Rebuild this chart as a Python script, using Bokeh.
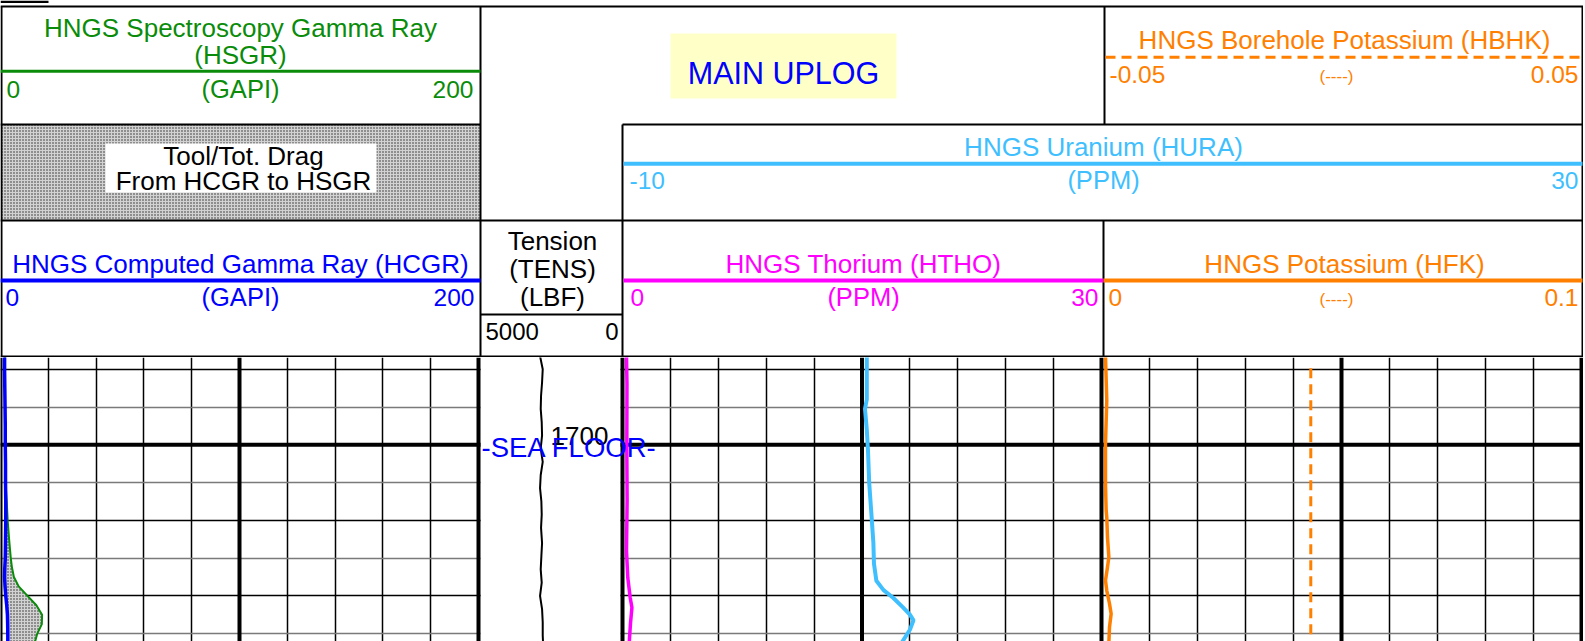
from bokeh.plotting import figure
from bokeh.layouts import column
from bokeh.models import Range1d, FixedTicker, Grid, Span, Label, BoxAnnotation
from bokeh.core.properties import value
from bokeh.embed import file_html
from bokeh.resources import INLINE

FONT_NAME = "Liberation Sans"
FONT = value(FONT_NAME)

# ---------------- data (depth in ft) ----------------
gr_depth = [1695.3, 1696, 1697, 1698, 1699, 1700, 1701, 1702, 1703, 1704, 1705,
            1706, 1706.5, 1707, 1707.5, 1708, 1708.5, 1709, 1709.5, 1710, 1710.5]
hsgr = [1.9, 1.9, 1.9, 1.9, 1.9, 1.9, 2.0, 2.1, 2.6, 3.0, 3.6,
        4.3, 4.8, 5.6, 7.6, 11.3, 15.0, 17.4, 17.3, 15.4, 14.3]
hcgr = [1.7, 1.7, 1.8, 1.9, 2.0, 2.0, 2.1, 2.1, 2.2, 2.2, 2.1,
        2.0, 1.8, 1.7, 1.9, 2.2, 2.6, 2.9, 3.0, 3.05, 3.05]

tens_depth = [1695.3, 1696.0, 1696.7, 1697.4, 1698.1, 1698.8, 1699.5, 1700.2, 1700.9,
              1701.6, 1702.3, 1703.0, 1703.7, 1704.4, 1705.2, 1705.9, 1706.6, 1707.3,
              1708.0, 1708.7, 1709.4, 1710.1, 1710.5]
tens = [2863, 2770, 2793, 2828, 2840, 2805, 2793, 2840, 2770,
        2840, 2863, 2817, 2805, 2828, 2793, 2817, 2840, 2805,
        2863, 2793, 2770, 2770, 2758]

htho_depth = [1695.3, 1696.75, 1700.3, 1702.95, 1705.6, 1707.03, 1708.09, 1708.62, 1709.46, 1710.5]
htho = [0.25, 0.28, 0.27, 0.29, 0.25, 0.33, 0.48, 0.59, 0.50, 0.42]

hura_depth = [1695.3, 1696.5, 1697.6, 1698.1, 1699.2, 1700.3, 1702.0, 1703.8, 1705.2,
              1706.3, 1707.2, 1707.7, 1708.1, 1708.6, 1709.0, 1709.3, 1709.8, 1710.5]
hura = [10.4, 10.4, 10.4, 10.25, 10.4, 10.5, 10.6, 10.8, 10.95,
        11.0, 11.2, 11.8, 12.6, 13.4, 14.0, 14.3, 14.0, 13.3]

hfk_depth = [1695.3, 1697.65, 1699.95, 1702.07, 1703.48, 1703.84, 1704.90, 1705.95,
             1706.48, 1707.19, 1707.72, 1708.42, 1708.95, 1709.66, 1710.5]
hfk = [0.00083, 0.0011, 0.00083, 0.00083, 0.00097, 0.0011, 0.00125, 0.00153,
       0.00125, 0.00083, 0.0011, 0.00167, 0.00201, 0.00167, 0.00153]

hbhk_depth = [1695.95, 1700.0, 1705.0, 1710.15]
hbhk = [-0.0064, -0.0064, -0.0064, -0.0064]

depth_top, depth_bottom = 1695.375, 1710.42
depth_major = [1696, 1700, 1704, 1708]
depth_minor = [1698, 1702, 1706, 1710]
marker_depth = 1700
marker_label = "1700"
sea_floor_label = "-SEA FLOOR-"

gr_range = (0, 200)
tens_range = (5000, 0)
htho_range = (0, 30)
hura_range = (-10, 30)
hfk_range = (0, 0.1)
hbhk_range = (-0.05, 0.05)

gr_ticks = [20, 40, 60, 80, 120, 140, 160, 180]
htho_ticks = [3, 6, 9, 12, 18, 21, 24, 27]
hfk_ticks = [0.01, 0.02, 0.03, 0.04, 0.06, 0.07, 0.08, 0.09]

# ---------------- styling / layout ----------------
GREEN = "#0A8C0A"
BLUE = "#0000FF"
MAGENTA = "#FF00FF"
ORANGE = "#FF8000"
LBLUE = "#40BFFF"
YELLOW = "#FFFFC8"
STIPPLE_BG = "#d2d2d2"
STIPPLE_DOT = "#262626"

TOTAL_W = 1583
HEAD_H = 357
BODY_H = 284
# track pixel extents
T1 = (0, 478)
TD = (478, 622)
T2 = (622, 1101)
T3 = (1101, 1581)

# ---------------- header ----------------
hdr = figure(width=TOTAL_W, height=HEAD_H, x_range=Range1d(0, TOTAL_W), y_range=Range1d(HEAD_H, 0),
             x_axis_type=None, y_axis_type=None, output_backend="svg",
             toolbar_location=None, min_border=0, outline_line_color=None)

hdr.quad(left=[0], right=[48], top=[0], bottom=[2.5], fill_color="black", line_color=None)
hdr.quad(left=[670], right=[896], top=[33], bottom=[98], fill_color=YELLOW, line_color=None)
hdr.quad(left=[0], right=[480], top=[124], bottom=[220], fill_color=STIPPLE_BG, line_color=None,
         hatch_pattern="dot", hatch_color=STIPPLE_DOT, hatch_scale=3, hatch_weight=1)
hdr.quad(left=[105], right=[376], top=[143], bottom=[192], fill_color="white", line_color=None)

cells = [
    (0, 6, 1583, 6), (1, 6, 1, 357), (1582, 6, 1582, 357), (480, 6, 480, 357),
    (622, 124, 622, 357), (1104, 6, 1104, 124), (1103, 220, 1103, 357),
    (0, 124, 480, 124), (622, 124, 1583, 124), (0, 220, 1583, 220),
    (480, 314, 622, 314), (0, 356, 1583, 356),
]
hdr.segment(x0=[c[0] for c in cells], y0=[c[1] for c in cells],
            x1=[c[2] for c in cells], y1=[c[3] for c in cells],
            line_color="black", line_width=2)

hdr.segment(x0=[0], y0=[70.7], x1=[480], y1=[70.7], line_color=GREEN, line_width=3)
hdr.segment(x0=[1105], y0=[56.7], x1=[1582], y1=[56.7], line_color=ORANGE, line_width=3,
            line_dash="10 6")
hdr.segment(x0=[623], y0=[163.3], x1=[1582], y1=[163.3], line_color=LBLUE, line_width=4)
hdr.segment(x0=[0], y0=[280], x1=[480], y1=[280], line_color=BLUE, line_width=4)
hdr.segment(x0=[623], y0=[280], x1=[1103], y1=[280], line_color=MAGENTA, line_width=4)
hdr.segment(x0=[1103], y0=[280], x1=[1582], y1=[280], line_color=ORANGE, line_width=4)

TS, US, NS = "26px", "25.5px", "24.5px"
labels = [
    ("HNGS Spectroscopy Gamma Ray", 240, 27, "center", GREEN, TS),
    ("(HSGR)", 240, 54, "center", GREEN, TS),
    ("0", 6, 88.5, "left", GREEN, NS),
    ("(GAPI)", 240, 88, "center", GREEN, US),
    ("200", 473, 88.5, "right", GREEN, NS),
    ("Tool/Tot. Drag", 243, 155, "center", "black", TS),
    ("From HCGR to HSGR", 243, 180, "center", "black", TS),
    ("HNGS Computed Gamma Ray (HCGR)", 240, 263, "center", BLUE, TS),
    ("0", 5, 296.5, "left", BLUE, NS),
    ("(GAPI)", 240, 296, "center", BLUE, US),
    ("200", 474, 296.5, "right", BLUE, NS),
    ("Tension", 552, 240, "center", "black", TS),
    ("(TENS)", 552, 268, "center", "black", TS),
    ("(LBF)", 552, 296, "center", "black", TS),
    ("5000", 485, 330.7, "left", "black", "24px"),
    ("0", 618, 330.7, "right", "black", "24px"),
    ("MAIN UPLOG", 783, 72.5, "center", BLUE, "30.5px"),
    ("HNGS Borehole Potassium (HBHK)", 1344, 39, "center", ORANGE, TS),
    ("-0.05", 1109, 73.5, "left", ORANGE, NS),
    ("(----)", 1336, 76, "center", ORANGE, "17px"),
    ("0.05", 1578, 73.5, "right", ORANGE, NS),
    ("HNGS Uranium (HURA)", 1103, 146, "center", LBLUE, TS),
    ("-10", 629, 179.5, "left", LBLUE, NS),
    ("(PPM)", 1103, 179, "center", LBLUE, US),
    ("30", 1578, 179.5, "right", LBLUE, NS),
    ("HNGS Thorium (HTHO)", 863, 263, "center", MAGENTA, TS),
    ("0", 630, 296.5, "left", MAGENTA, NS),
    ("(PPM)", 863, 296, "center", MAGENTA, US),
    ("30", 1098, 296.5, "right", MAGENTA, NS),
    ("HNGS Potassium (HFK)", 1344, 263, "center", ORANGE, TS),
    ("0", 1108, 296.5, "left", ORANGE, NS),
    ("(----)", 1336, 299, "center", ORANGE, "17px"),
    ("0.1", 1578, 296.5, "right", ORANGE, NS),
]
for t, x, y, al, col, sz in labels:
    hdr.text(x=[x], y=[y], text=[t], text_align=al, text_baseline="middle",
             text_color=col, text_font=FONT, text_font_size=sz)

# ---------------- body (all tracks share one depth axis) ----------------
body = figure(width=TOTAL_W, height=BODY_H, x_range=Range1d(0, TOTAL_W),
              y_range=Range1d(depth_bottom, depth_top),
              x_axis_type=None, y_axis_type=None, output_backend="svg",
              toolbar_location=None, min_border=0, outline_line_color=None)


def track_range(px, rng):
    lo, hi = rng
    per = (hi - lo) / (px[1] - px[0])
    return Range1d(lo - px[0] * per, lo + (TOTAL_W - px[0]) * per)


body.extra_x_ranges = {
    "gr": track_range(T1, gr_range),
    "tens": track_range(TD, tens_range),
    "tho": track_range(T2, htho_range),
    "ura": track_range(T2, hura_range),
    "hfk": track_range(T3, hfk_range),
    "bhk": track_range(T3, hbhk_range),
}

for name, ticks in [("gr", gr_ticks), ("tho", htho_ticks), ("hfk", hfk_ticks)]:
    body.add_layout(Grid(dimension=0, x_range_name=name, ticker=FixedTicker(ticks=ticks),
                         grid_line_color="black", grid_line_width=1.5))
body.add_layout(Grid(dimension=1, ticker=FixedTicker(ticks=depth_major, minor_ticks=depth_minor),
                     grid_line_color="black", grid_line_width=1.5,
                     minor_grid_line_color="#7a7a7a", minor_grid_line_width=1.5))
body.add_layout(Span(location=marker_depth, dimension="width", line_color="black",
                     line_width=4, level="underlay"))
# depth track carries no depth grid
body.add_layout(BoxAnnotation(left=TD[0] + 2, right=TD[1] - 2, fill_color="white",
                              fill_alpha=1.0, line_color=None, level="underlay"))
edges = [T1[0], (T1[0] + T1[1]) / 2, T1[1], T2[0], (T2[0] + T2[1]) / 2, T2[1],
         (T3[0] + T3[1]) / 2, T3[1]]
for loc in edges:
    body.add_layout(Span(location=loc, dimension="height", line_color="black",
                         line_width=4, level="underlay"))

body.harea(x1=hcgr, x2=hsgr, y=gr_depth, x_range_name="gr", fill_color=STIPPLE_BG,
           hatch_pattern="dot", hatch_color=STIPPLE_DOT, hatch_scale=3, hatch_weight=1)
body.line(hsgr, gr_depth, x_range_name="gr", line_color=GREEN, line_width=2)
body.line(hcgr, gr_depth, x_range_name="gr", line_color=BLUE, line_width=3.5)
body.line(tens, tens_depth, x_range_name="tens", line_color="black", line_width=2)
body.line(htho, htho_depth, x_range_name="tho", line_color=MAGENTA, line_width=3.5)
body.line(hura, hura_depth, x_range_name="ura", line_color=LBLUE, line_width=4)
body.line(hfk, hfk_depth, x_range_name="hfk", line_color=ORANGE, line_width=3.5)
body.line(hbhk, hbhk_depth, x_range_name="bhk", line_color=ORANGE, line_width=3,
          line_dash="10 6")

body.add_layout(Label(x=579, y=1699.56, text=marker_label, text_align="center",
                      text_baseline="middle", text_color="black",
                      text_font=FONT_NAME, text_font_size="26px"))
body.add_layout(Label(x=TD[0] + 3, y=1700.12, text=sea_floor_label, text_align="left",
                      text_baseline="middle", text_color=BLUE,
                      text_font=FONT_NAME, text_font_size="27.5px"))

p = column(hdr, body)
open("out.html", "w").write(file_html(p, INLINE))
